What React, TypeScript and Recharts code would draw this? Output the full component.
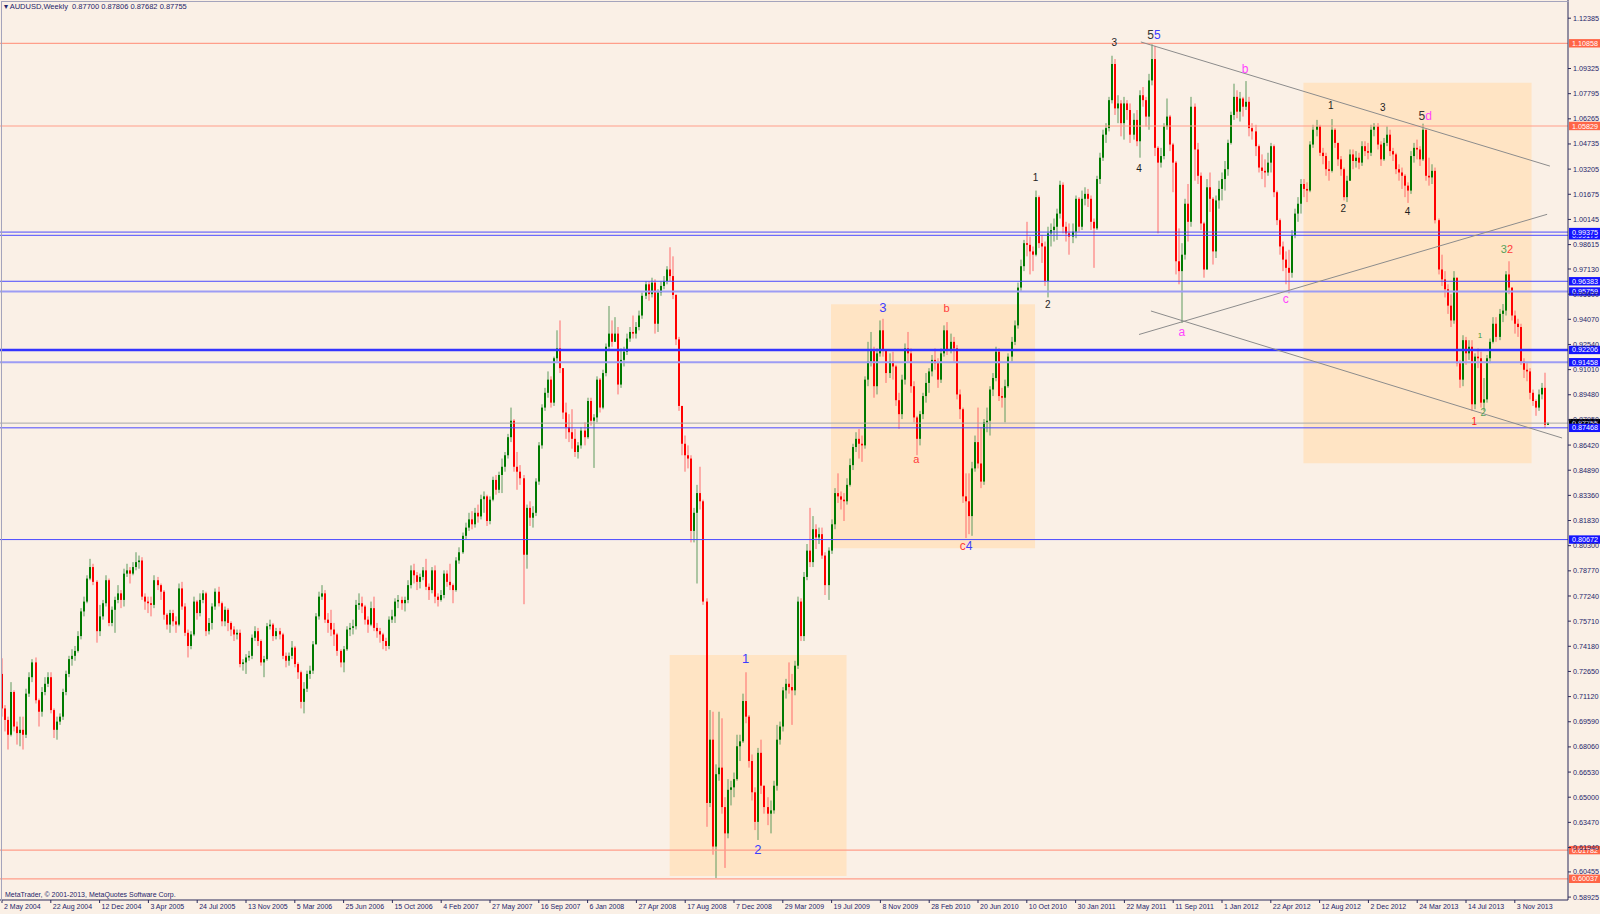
import React from 'react';
import {
  ComposedChart,
  Bar,
  XAxis,
  YAxis,
  ReferenceLine,
  ReferenceArea,
  ReferenceDot,
} from 'recharts';

// weekly candles, [close, high, low] in pips; open = previous close
const firstOpen = 7250;

const w2004 = [
  [7040, 7345, 6990], [6970, 7060, 6900], [6880, 6990, 6790], [7140, 7200, 6870], [6930, 7150, 6900],
  [6890, 6960, 6820], [6910, 6990, 6810], [6880, 6990, 6790], [7130, 7160, 6860], [7230, 7260, 7110],
  [7320, 7340, 7200], [7090, 7350, 7070], [7020, 7100, 6930], [7140, 7170, 6990], [7190, 7230, 7120],
  [7230, 7260, 7170], [7030, 7260, 7010], [6910, 7040, 6860], [6960, 6990, 6850], [6990, 7010, 6940],
  [7140, 7160, 6970], [7250, 7270, 7120], [7340, 7360, 7230], [7360, 7400, 7300], [7390, 7420, 7330],
  [7480, 7510, 7380], [7630, 7650, 7460], [7690, 7720, 7600], [7830, 7850, 7680], [7900, 7950, 7820],
  [7810, 7920, 7790], [7510, 7820, 7440], [7600, 7670, 7480], [7680, 7700, 7580], [7820, 7850, 7660],
];

const w2005 = [
  [7560, 7830, 7540], [7640, 7660, 7540], [7700, 7720, 7500], [7740, 7790, 7680], [7700, 7760, 7650],
  [7860, 7890, 7660], [7880, 7920, 7840], [7860, 7900, 7800], [7900, 7930, 7850], [7930, 7990, 7880],
  [7940, 7970, 7890], [7720, 7960, 7700], [7690, 7740, 7640], [7680, 7720, 7620], [7670, 7720, 7600],
  [7820, 7850, 7650], [7790, 7840, 7760], [7750, 7800, 7700], [7610, 7760, 7580], [7550, 7620, 7520],
  [7620, 7640, 7500], [7570, 7640, 7540], [7550, 7600, 7500], [7770, 7800, 7540], [7660, 7810, 7640],
  [7500, 7680, 7480], [7420, 7520, 7350], [7490, 7510, 7400], [7690, 7720, 7480], [7620, 7700, 7580],
  [7700, 7740, 7600], [7740, 7760, 7680], [7510, 7750, 7480], [7560, 7590, 7490], [7660, 7680, 7520],
  [7750, 7770, 7640], [7680, 7780, 7660], [7570, 7690, 7540], [7640, 7660, 7540], [7560, 7650, 7510],
  [7520, 7570, 7480], [7490, 7540, 7450], [7500, 7520, 7460], [7310, 7520, 7290], [7320, 7340, 7270],
  [7350, 7370, 7250], [7360, 7390, 7330], [7470, 7490, 7340], [7510, 7540, 7450], [7450, 7530, 7420],
  [7320, 7460, 7300], [7340, 7360, 7230],
];

const w2006 = [
  [7540, 7560, 7330], [7550, 7580, 7520], [7480, 7560, 7450], [7510, 7530, 7460], [7490, 7530, 7460],
  [7360, 7500, 7340], [7330, 7380, 7290], [7360, 7380, 7300], [7410, 7450, 7340], [7310, 7420, 7290],
  [7260, 7320, 7220], [7080, 7270, 7040], [7160, 7200, 7010], [7250, 7270, 7140], [7270, 7300, 7220],
  [7430, 7450, 7250], [7600, 7620, 7430], [7720, 7750, 7580], [7740, 7790, 7700], [7580, 7760, 7560],
  [7560, 7620, 7500], [7520, 7640, 7480], [7490, 7560, 7420], [7390, 7500, 7360], [7320, 7400, 7290],
  [7400, 7420, 7260], [7520, 7540, 7390], [7530, 7560, 7480], [7540, 7580, 7490], [7670, 7700, 7520],
  [7680, 7740, 7640], [7660, 7720, 7620], [7580, 7670, 7550], [7550, 7600, 7500], [7650, 7690, 7540],
  [7530, 7720, 7510], [7510, 7560, 7470], [7490, 7530, 7440], [7450, 7500, 7400], [7420, 7470, 7390],
  [7580, 7600, 7400], [7600, 7640, 7560], [7690, 7710, 7560], [7700, 7730, 7650], [7680, 7720, 7640],
  [7700, 7720, 7630], [7790, 7820, 7680], [7880, 7910, 7770], [7850, 7920, 7800], [7810, 7870, 7760],
  [7840, 7860, 7770], [7880, 7900, 7820],
];

const w2007 = [
  [7780, 7950, 7760], [7760, 7800, 7700], [7880, 7900, 7740], [7720, 7910, 7680], [7700, 7740, 7660],
  [7730, 7760, 7690], [7860, 7880, 7710], [7810, 7880, 7780], [7790, 7920, 7760], [7760, 7800, 7680],
  [7940, 7960, 7750], [7990, 8020, 7920], [8090, 8110, 7980], [8140, 8170, 8070], [8190, 8230, 8120],
  [8160, 8240, 8130], [8230, 8260, 8140], [8208, 8280, 8170], [8313, 8340, 8190], [8330, 8360, 8230],
  [8180, 8340, 8150], [8310, 8330, 8160], [8430, 8450, 8300], [8370, 8460, 8340], [8460, 8480, 8350],
  [8510, 8560, 8350], [8580, 8600, 8480], [8690, 8710, 8560], [8790, 8870, 8660], [8510, 8800, 8480],
  [8480, 8600, 8370], [8440, 8520, 8400], [7975, 8460, 7674], [8260, 8280, 7890], [8200, 8300, 8150],
  [8230, 8270, 8140], [8420, 8440, 8210], [8640, 8660, 8400], [8870, 8890, 8620], [8960, 8990, 8850],
  [9040, 9090, 8930], [8900, 9060, 8870], [9170, 9180, 8880], [9230, 9340, 9150], [9110, 9400, 9080],
  [8840, 9100, 8800], [8750, 8900, 8680], [8720, 8830, 8660], [8680, 8860, 8620], [8600, 8740, 8570],
  [8640, 8660, 8560], [8730, 8750, 8620], [8690, 8780, 8640],
];

const w2008 = [
  [8910, 8930, 8680], [8790, 8930, 8760], [8810, 8830, 8503], [9040, 9060, 8780], [8870, 9050, 8840],
  [9080, 9100, 8860], [9240, 9260, 9060], [9320, 9488, 9220], [9270, 9400, 9240], [9320, 9420, 9270],
  [9010, 9360, 8950], [9160, 9230, 8990], [9210, 9240, 9120], [9290, 9320, 9190], [9330, 9360, 9270],
  [9320, 9430, 9290], [9360, 9390, 9290], [9430, 9460, 9340], [9550, 9570, 9410], [9620, 9640, 9530],
  [9560, 9640, 9520], [9630, 9660, 9540], [9380, 9650, 9320], [9570, 9590, 9330], [9610, 9640, 9550],
  [9640, 9670, 9590], [9710, 9730, 9620], [9670, 9845, 9640], [9555, 9790, 9530], [9285, 9560, 9250],
  [8880, 9300, 8850], [8650, 8880, 8580], [8580, 8700, 8480], [8560, 8640, 8500], [8120, 8580, 8050],
  [8230, 8260, 8050], [8350, 8400, 7800], [8300, 8510, 8250], [7690, 8310, 7670], [6465, 7710, 6320],
  [6850, 7030, 6440], [6200, 7020, 6150], [6640, 6700, 6008], [6680, 7020, 6600], [6440, 6980, 6400],
  [6280, 6500, 6070], [6545, 6610, 6250], [6560, 6600, 6450], [6610, 6650, 6500], [6810, 6880, 6600],
  [6840, 6880, 6720], [7085, 7130, 6830],
];

const w2009 = [
  [6990, 7260, 6950], [6720, 7000, 6680], [6530, 6760, 6480], [6350, 6560, 6300], [6770, 6800, 6240],
  [6570, 6850, 6520], [6440, 6560, 6400], [6400, 6500, 6330], [6420, 6480, 6280], [6570, 6600, 6400],
  [6850, 6940, 6540], [6930, 6960, 6820], [7150, 7170, 6900], [7190, 7220, 7100], [7170, 7320, 7130],
  [7150, 7250, 6940], [7300, 7330, 7120], [7690, 7720, 7280], [7480, 7710, 7450], [7840, 7870, 7450],
  [8000, 8040, 7820], [7930, 8260, 7900], [8130, 8210, 7900], [8080, 8160, 8010], [8100, 8140, 8040],
  [7970, 8140, 7950], [7790, 7990, 7730], [8000, 8020, 7700], [8160, 8190, 7980], [8350, 8380, 8130],
  [8330, 8470, 8290], [8310, 8360, 8250], [8300, 8350, 8180], [8400, 8440, 8280], [8520, 8560, 8390],
  [8630, 8650, 8490], [8680, 8720, 8600], [8650, 8740, 8560], [8640, 8700, 8540], [9040, 9060, 8620],
  [9150, 9270, 9000], [9220, 9330, 9120], [9000, 9240, 8930], [9200, 9230, 8950], [9340, 9400, 9180],
  [9220, 9410, 9180], [9080, 9200, 9020], [9150, 9200, 9050], [9120, 9210, 9040], [8915, 9130, 8880],
  [8830, 8960, 8740], [9040, 9070, 8800],
];

const w2010 = [
  [9230, 9260, 9010], [9200, 9330, 9150], [9000, 9230, 8960], [8810, 9030, 8780], [8680, 8820, 8580],
  [8830, 8850, 8640], [8940, 8960, 8800], [9020, 9080, 8900], [9090, 9110, 8960], [9160, 9190, 9060],
  [9140, 9230, 9100], [9040, 9170, 8990], [9200, 9230, 9020], [9340, 9370, 9180], [9220, 9390, 9190],
  [9270, 9320, 9200], [9230, 9300, 9150], [8950, 9250, 8920], [8860, 8980, 8800], [8330, 8870, 8290],
  [8300, 8470, 8076], [8210, 8470, 8100], [8500, 8540, 8090], [8660, 8700, 8480], [8530, 8870, 8500],
  [8420, 8750, 8380], [8780, 8800, 8400], [8790, 8870, 8720], [8980, 9000, 8700], [9050, 9080, 8940],
  [9210, 9240, 9030], [8940, 9230, 8910], [8930, 8990, 8870], [9000, 9040, 8780], [9180, 9200, 8990],
  [9270, 9300, 9150], [9370, 9400, 9250], [9600, 9630, 9350], [9730, 9770, 9580], [9870, 9890, 9700],
  [9860, 10000, 9790], [9820, 9910, 9680], [9800, 9850, 9700], [10150, 10190, 9790], [9870, 10160, 9840],
  [9850, 9920, 9750], [9640, 9880, 9610], [9930, 9970, 9540], [9950, 9990, 9850], [9970, 10020, 9880],
  [10050, 10080, 9890], [10225, 10250, 10020],
];

const w2011 = [
  [9970, 10240, 9930], [9930, 10000, 9880], [9910, 9990, 9800], [9940, 9990, 9870], [10140, 10160, 9900],
  [9970, 10150, 9940], [10140, 10190, 9950], [10170, 10210, 10100], [10140, 10200, 10090], [10000, 10160, 9950],
  [9960, 10020, 9720], [10260, 10280, 9950], [10390, 10420, 10230], [10530, 10560, 10370], [10570, 10600, 10480],
  [10740, 10760, 10550], [10960, 11010, 10720], [10690, 10990, 10650], [10720, 10770, 10600], [10600, 10740, 10520],
  [10720, 10760, 10500], [10680, 10740, 10620], [10530, 10720, 10480], [10620, 10660, 10500], [10490, 10680, 10460],
  [10770, 10800, 10390], [10740, 10820, 10700], [10640, 10760, 10580], [10860, 10900, 10560], [10990, 11080, 10830],
  [10450, 11070, 10400], [10360, 10460, 9930], [10400, 10450, 10330], [10580, 10600, 10380], [10640, 10750, 10560],
  [10470, 10650, 10430], [10360, 10480, 10180], [9760, 10370, 9680], [9700, 9960, 9620], [9800, 9870, 9385],
  [10110, 10140, 9770], [10000, 10230, 9880], [10700, 10760, 9970], [10440, 10720, 10250], [10280, 10480, 10230],
  [9990, 10300, 9950], [9710, 10000, 9660], [10210, 10260, 9710], [10140, 10300, 10060], [9820, 10150, 9740],
  [10130, 10160, 9780], [10200, 10250, 10080],
];

const w2012 = [
  [10260, 10300, 10130], [10320, 10370, 10190], [10480, 10500, 10280], [10650, 10670, 10470], [10760, 10840, 10620],
  [10670, 10800, 10630], [10750, 10790, 10610], [10700, 10760, 10640], [10730, 10856, 10680], [10570, 10760, 10520],
  [10550, 10600, 10500], [10460, 10590, 10400], [10330, 10470, 10300], [10310, 10410, 10260], [10300, 10380, 10210],
  [10360, 10420, 10280], [10460, 10480, 10300], [10180, 10470, 10150], [10010, 10190, 9980], [9850, 10020, 9800],
  [9770, 9880, 9700], [9720, 9820, 9620], [9690, 9830, 9565], [9920, 9950, 9660], [10050, 10080, 9900],
  [10110, 10150, 10000], [10230, 10260, 10050], [10200, 10260, 10150], [10190, 10240, 10120], [10470, 10490, 10180],
  [10560, 10590, 10450], [10580, 10620, 10520], [10420, 10590, 10400], [10400, 10450, 10350], [10320, 10420, 10280],
  [10310, 10370, 10250], [10560, 10625, 10300], [10480, 10570, 10450], [10380, 10480, 10340], [10320, 10400, 10280],
  [10150, 10330, 10130], [10250, 10280, 10120], [10410, 10440, 10250], [10370, 10440, 10320], [10390, 10430, 10330],
  [10360, 10420, 10320], [10460, 10490, 10340], [10430, 10490, 10400], [10420, 10480, 10380], [10560, 10590, 10400],
  [10580, 10600, 10520], [10470, 10600, 10440], [10380, 10490, 10340],
];

const w2013 = [
  [10480, 10510, 10370], [10530, 10580, 10460], [10430, 10560, 10400], [10410, 10450, 10370], [10320, 10420, 10290],
  [10300, 10350, 10250], [10280, 10330, 10200], [10220, 10290, 10150], [10190, 10240, 10115], [10400, 10430, 10170],
  [10450, 10480, 10360], [10440, 10500, 10380], [10380, 10460, 10340], [10560, 10597, 10370], [10280, 10560, 10250],
  [10270, 10390, 10220], [10310, 10350, 10230], [10010, 10330, 9990], [9710, 10020, 9680], [9650, 9800, 9610],
  [9590, 9700, 9540], [9490, 9620, 9440], [9400, 9560, 9360], [9660, 9700, 9380], [9140, 9660, 9120],
  [9040, 9160, 8990], [9280, 9310, 9000], [9200, 9300, 9130], [9240, 9280, 9160], [8890, 9280, 8850],
  [9180, 9200, 8860], [9170, 9230, 9110], [8900, 9210, 8870], [8920, 9050, 8850], [9170, 9190, 8900],
  [9270, 9290, 9140], [9380, 9420, 9260], [9300, 9420, 9270], [9440, 9470, 9280], [9460, 9500, 9390],
  [9680, 9700, 9430], [9600, 9760, 9560], [9430, 9600, 9400], [9380, 9460, 9320], [9360, 9410, 9300],
  [9150, 9380, 9130], [9100, 9170, 9050], [9090, 9140, 9030], [8960, 9110, 8920], [8910, 8980, 8880],
  [8870, 8920, 8820], [8950, 8980, 8850],
];

const w2014 = [
  [8990, 9020, 8920], [8765, 9082, 8745], [8776, 8781, 8768],
];

const dateLabels = [
  '2 May 2004', '22 Aug 2004', '12 Dec 2004', '3 Apr 2005', '24 Jul 2005', '13 Nov 2005',
  '5 Mar 2006', '25 Jun 2006', '15 Oct 2006', '4 Feb 2007', '27 May 2007', '16 Sep 2007',
  '6 Jan 2008', '27 Apr 2008', '17 Aug 2008', '7 Dec 2008', '29 Mar 2009', '19 Jul 2009',
  '8 Nov 2009', '28 Feb 2010', '20 Jun 2010', '10 Oct 2010', '30 Jan 2011', '22 May 2011',
  '11 Sep 2011', '1 Jan 2012', '22 Apr 2012', '12 Aug 2012', '2 Dec 2012', '24 Mar 2013',
  '14 Jul 2013', '3 Nov 2013',
];
const dateTicks = dateLabels.map((_, k) => k * 16);

const priceTicks = [
  1.12385, 1.09325, 1.07795, 1.06265, 1.04735, 1.03205, 1.01675, 1.00145, 0.98615, 0.9713,
  0.956, 0.9407, 0.9254, 0.9101, 0.8948, 0.8795, 0.8642, 0.8489, 0.8336, 0.8183, 0.803,
  0.7877, 0.7724, 0.7571, 0.7418, 0.7265, 0.7112, 0.6959, 0.6806, 0.6653, 0.65, 0.6347,
  0.6194, 0.60455, 0.58925,
];

// horizontal levels with their price tags (last drawn on top)
const levels = [
  { p: 1.10858, kind: 'red' },
  { p: 1.05829, kind: 'red' },
  { p: 0.99179, kind: 'blue' },
  { p: 0.99375, kind: 'blue' },
  { p: 0.96383, kind: 'blue' },
  { p: 0.95759, kind: 'lav' },
  { p: 0.92206, kind: 'thick' },
  { p: 0.91458, kind: 'lav' },
  { p: 0.87755, kind: 'price' },
  { p: 0.87468, kind: 'blue' },
  { p: 0.80672, kind: 'blue' },
  { p: 0.61782, kind: 'red' },
  { p: 0.60037, kind: 'red' },
];

// highlighted boxes: [start week, end week, top, bottom]
const boxes = [
  [218.9, 276.9, 0.7365, 0.60208],
  [271.8, 338.7, 0.94988, 0.80147],
  [426.7, 501.5, 1.08461, 0.85311],
];

// trend lines: [week, price] pairs
const trendLines = [
  [[373.4, 1.1094], [507.5, 1.0339]],
  [[372.8, 0.93146], [506.6, 1.00457]],
  [[376.7, 0.94575], [511.5, 0.86849]],
];

// wave labels: week, price, parts [text, colour]
const waveLabels: [number, number, number, [string, string][]][] = [
  [243.8, 0.73467, 13, [['1', '#3c3cff']]],
  [247.8, 0.6185, 13, [['2', '#3c3cff']]],
  [288.8, 0.94818, 13, [['3', '#3c3cff']]],
  [309.7, 0.94757, 11, [['b', '#ff3b3b']]],
  [299.8, 0.85572, 11, [['a', '#ff3b3b']]],
  [316.1, 0.80311, 12, [['c', '#ff3b3b'], ['4', '#3c3cff']]],
  [338.9, 1.02665, 10, [['1', '#1e1e1e']]],
  [342.9, 0.94999, 10, [['2', '#1e1e1e']]],
  [364.7, 1.10907, 10, [['3', '#1e1e1e']]],
  [372.8, 1.03273, 10, [['4', '#1e1e1e']]],
  [377.7, 1.11363, 12, [['5', '#333333'], ['5', '#3c3cff']]],
  [407.6, 1.09337, 12, [['b', '#ff44ff']]],
  [386.8, 0.93316, 12, [['a', '#ff44ff']]],
  [420.9, 0.95287, 12, [['c', '#ff44ff']]],
  [435.7, 1.07062, 10, [['1', '#1e1e1e']]],
  [439.8, 1.00821, 10, [['2', '#1e1e1e']]],
  [452.7, 1.06941, 10, [['3', '#1e1e1e']]],
  [460.8, 1.00615, 10, [['4', '#1e1e1e']]],
  [466.6, 1.06436, 12, [['5', '#333333'], ['d', '#ff44ff']]],
  [493.4, 0.98346, 11, [['3', '#5aa05a'], ['2', '#ff3b3b']]],
  [484.6, 0.93115, 8, [['1', '#3c9c3c']]],
  [485.7, 0.88389, 10, [['2', '#5aa05a']]],
  [482.7, 0.87841, 10, [['1', '#ff2020']]],
];

const weeks = [
  ...w2004, ...w2005, ...w2006, ...w2007, ...w2008, ...w2009,
  ...w2010, ...w2011, ...w2012, ...w2013, ...w2014,
];

const candles = weeks.map(([c, h, l], i) => {
  const o = i === 0 ? firstOpen : weeks[i - 1][0];
  return {
    i,
    open: o / 1e4,
    close: c / 1e4,
    high: Math.max(h, o, c) / 1e4,
    low: Math.min(l, o, c) / 1e4,
  };
});

const TEXT = '#24246a';
const FONT = '"Liberation Sans", Arial, sans-serif';

const Candle = (props: any) => {
  let { x, y, width, height } = props;
  const { open, close, high, low } = props.payload;
  if (height < 0) {
    y += height;
    height = -height;
  }
  const range = high - low || 1e-9;
  const py = (v: number) => y + ((high - v) / range) * height;
  const cx = Math.round(x + width / 2);
  const up = close >= open;
  const top = py(Math.max(open, close));
  const bot = py(Math.min(open, close));
  return (
    <g>
      <line x1={cx} x2={cx} y1={y} y2={y + height} stroke={up ? '#5e9a5e' : '#ff6a6a'} strokeWidth={1} />
      <rect x={cx - 1} y={top} width={2} height={Math.max(bot - top, 1)} fill={up ? '#007a00' : '#ff0000'} />
    </g>
  );
};

const DateTick = (props: any) => {
  const { x, y, payload } = props;
  const k = dateTicks.indexOf(payload.value);
  return (
    <text x={x + 2} y={y - 1} dy="0.71em" fontSize={7} fontFamily={FONT} fill={TEXT}>
      {dateLabels[k]}
    </text>
  );
};

const PriceTick = (props: any) => {
  const { x, y, payload } = props;
  return (
    <text x={x} y={y} dy="0.35em" fontSize={7.2} fontFamily={FONT} fill={TEXT}>
      {payload.value.toFixed(5)}
    </text>
  );
};

const lineStyle: Record<string, { stroke: string; width: number; tag: string }> = {
  red: { stroke: '#ff9e8a', width: 1.2, tag: '#ff6547' },
  blue: { stroke: '#4a4aff', width: 1, tag: '#1414ff' },
  lav: { stroke: '#9c9cf4', width: 2, tag: '#1414ff' },
  thick: { stroke: '#3434ff', width: 2.4, tag: '#1414ff' },
  price: { stroke: '#a8a8a8', width: 1, tag: '#000000' },
};

const makeTag = (p: number, fill: string) => (props: any) => {
  const vb = props.viewBox;
  const x = vb.x + vb.width + 1;
  return (
    <g>
      <rect x={x} y={vb.y - 4.2} width={31} height={8.4} fill={fill} />
      <text x={x + 3} y={vb.y} dy="0.35em" fontSize={7.2} fontFamily={FONT} fill="#ffffff">
        {p.toFixed(5)}
      </text>
    </g>
  );
};

const makeWave = (size: number, parts: [string, string][]) => (props: any) => {
  const vb = props.viewBox;
  const cx = vb.x + (vb.width || 0) / 2;
  const cy = vb.y + (vb.height || 0) / 2;
  return (
    <text x={cx} y={cy} dy="0.35em" textAnchor="middle" fontSize={size} fontFamily={FONT}>
      {parts.map(([t, c], k) => (
        <tspan key={k} fill={c}>
          {t}
        </tspan>
      ))}
    </text>
  );
};

const App: React.FC = () => {
  return (
    <div
      style={{
        position: 'absolute',
        left: 0,
        top: 0,
        width: 1600,
        height: 914,
        background: '#faf0e6',
        overflow: 'hidden',
      }}
    >
      <ComposedChart
        width={1600}
        height={914}
        data={candles}
        margin={{ top: 0, right: 0, bottom: 0, left: 0 }}
      >
        <XAxis
          type="number"
          dataKey="i"
          domain={[-0.656, 513.44]}
          allowDataOverflow
          ticks={dateTicks}
          interval={0}
          tick={<DateTick />}
          tickSize={3}
          height={14}
          stroke="#2b2b5a"
        />
        <YAxis
          orientation="right"
          type="number"
          domain={[0.58748, 1.13492]}
          allowDataOverflow
          ticks={priceTicks}
          interval={0}
          tick={<PriceTick />}
          tickSize={3}
          tickMargin={2}
          width={32}
          stroke="#2b2b5a"
        />
        {boxes.map(([x1, x2, y1, y2], k) => (
          <ReferenceArea
            key={'box' + k}
            x1={x1}
            x2={x2}
            y1={y1}
            y2={y2}
            fill="#ffe4c4"
            fillOpacity={1}
            stroke="none"
          />
        ))}
        {levels.map(({ p, kind }) => (
          <ReferenceLine
            key={'lv' + p}
            y={p}
            stroke={lineStyle[kind].stroke}
            strokeWidth={lineStyle[kind].width}
            label={makeTag(p, lineStyle[kind].tag)}
          />
        ))}
        {trendLines.map(([a, b], k) => (
          <ReferenceLine
            key={'tl' + k}
            segment={[
              { x: a[0], y: a[1] },
              { x: b[0], y: b[1] },
            ]}
            stroke="#8c8c8c"
            strokeWidth={1}
          />
        ))}
        <Bar
          dataKey={(d: any) => [d.low, d.high]}
          barSize={3}
          shape={(p: any) => <Candle {...p} />}
          isAnimationActive={false}
        />
        {waveLabels.map(([wx, wy, size, parts], k) => (
          <ReferenceDot
            key={'wl' + k}
            x={wx}
            y={wy}
            r={1}
            fill="none"
            stroke="none"
            label={makeWave(size, parts)}
          />
        ))}
      </ComposedChart>
      <div
        style={{
          position: 'absolute',
          left: 1,
          top: 1,
          width: 1567,
          height: 899,
          borderLeft: '1px solid #a4a4bc',
          borderTop: '1px solid #a4a4bc',
          pointerEvents: 'none',
        }}
      />
      <div
        style={{
          position: 'absolute',
          left: 4,
          top: 2,
          fontSize: 7.5,
          lineHeight: '10px',
          fontFamily: FONT,
          color: TEXT,
          whiteSpace: 'pre',
        }}
      >
        {'\u25BE AUDUSD,Weekly  0.87700 0.87806 0.87682 0.87755'}
      </div>
      <div
        style={{
          position: 'absolute',
          left: 5,
          top: 890,
          fontSize: 7,
          lineHeight: '9px',
          fontFamily: FONT,
          color: TEXT,
          whiteSpace: 'pre',
        }}
      >
        {'MetaTrader, \u00A9 2001-2013, MetaQuotes Software Corp.'}
      </div>
    </div>
  );
};

export default App;
